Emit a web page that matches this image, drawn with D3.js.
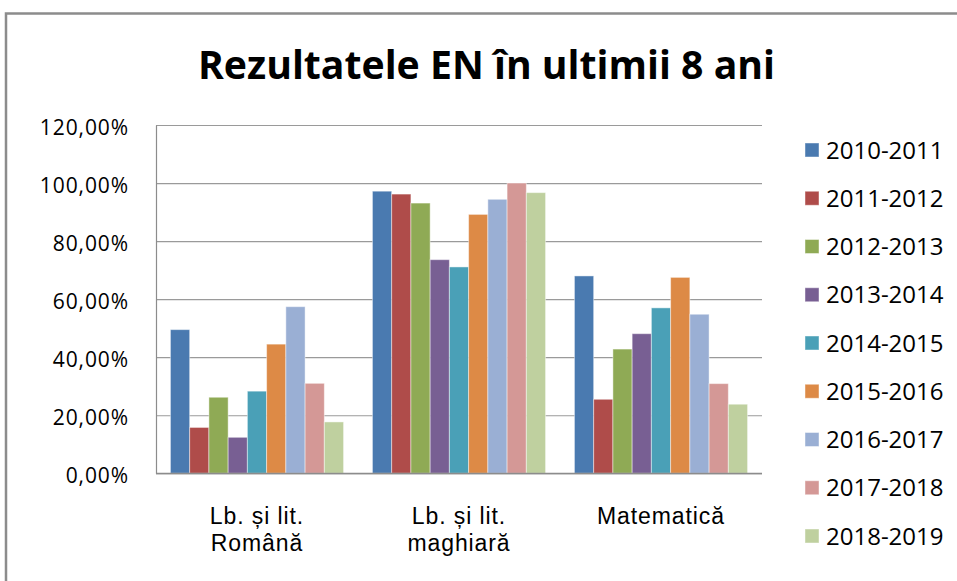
<!DOCTYPE html>
<html>
<head>
<meta charset="utf-8">
<script src="https://cdn.jsdelivr.net/npm/d3@7"></script>
<style>
	body{ margin:0; background:#fff; }
	svg{ display:block; }
</style>
</head>
<body>
<div id="chart"></div>
<script>
// values (fractions of 1)
var categories = ["Lb. și lit.\nRomână", "Lb. și lit.\nmaghiară", "Matematică"];
var seriesNames = ["2010-2011", "2011-2012", "2012-2013", "2013-2014", "2014-2015",
	"2015-2016", "2016-2017", "2017-2018", "2018-2019"];
var romana   = [0.495, 0.158, 0.262, 0.124, 0.283, 0.445, 0.574, 0.310, 0.177];
var maghiara = [0.972, 0.962, 0.931, 0.736, 0.711, 0.892, 0.944, 1.000, 0.967];
var matem    = [0.680, 0.255, 0.428, 0.481, 0.570, 0.675, 0.548, 0.309, 0.238];
var yTicks = [0, 0.2, 0.4, 0.6, 0.8, 1.0, 1.2];
var colors = ["#4a7ab0", "#af4c4a", "#8faa55", "#785f93", "#4aa0b7",
	"#dd8a46", "#9aafd4", "#d49896", "#bfd09f"];
var title = "Rezultatele EN în ultimii 8 ani";

var width = 957, height = 581;
var margin = {left:156, right:195, top:125, bottom:107.7};

var svg = d3.select("#chart").append("svg")
	.attr("width", width)
	.attr("height", height);

// outer chart border (runs off the right and bottom of the picture)
svg.append("rect")
	.attr("x", 6).attr("y", 13.5)
	.attr("width", width + 20).attr("height", height + 20)
	.attr("fill", "none")
	.attr("stroke", "#8c8c8c")
	.attr("stroke-width", 2.5);

svg.append("text")
	.attr("x", 198).attr("y", 79.3)
	.attr("textLength", 577)
	.attr("lengthAdjust", "spacingAndGlyphs")
	.style("font-family", "'Open Sans'")
	.style("font-weight", "bold")
	.style("font-size", "40px")
	.attr("fill", "#000")
	.text(title);

var table = [romana, maghiara, matem].map(function(vals, i){
	return {cat:categories[i], values:vals};
});

var x0 = d3.scaleBand()
	.domain(categories)
	.range([margin.left, width - margin.right])
	.paddingInner(1.5 / 10.5)
	.paddingOuter(0.75 / 10.5);

var x1 = d3.scaleBand()
	.domain(seriesNames)
	.range([0, x0.bandwidth()]);

var y = d3.scaleLinear()
	.domain([0, 1.2])
	.range([height - margin.bottom, margin.top]);

var fmt = function(d){ return d3.format(".2%")(d).replace(".", ","); };

// gridlines
svg.append("g")
	.attr("class", "grid")
	.attr("transform", "translate(" + margin.left + ",0)")
	.call(d3.axisLeft(y).tickValues(yTicks).tickSize(-(width - margin.right - margin.left)).tickFormat(""))
	.call(function(g){
		g.select(".domain").remove();
		g.selectAll("line").attr("stroke", "#9a9a9a").attr("stroke-width", 1.2);
	});

// y axis labels
svg.append("g")
	.attr("transform", "translate(" + margin.left + ",0)")
	.call(d3.axisLeft(y).tickValues(yTicks).tickSize(0).tickPadding(27).tickFormat(fmt))
	.call(function(g){
		g.select(".domain").attr("stroke", "#8c8c8c").attr("stroke-width", 1.2);
		g.selectAll("text")
			.attr("dy", "9.5px")
			.style("font-family", "'Open Sans'")
			.style("font-size", "21px")
			.style("letter-spacing", "0.9px")
			.attr("fill", "#000");
	});

// bars
var groups = svg.append("g").selectAll("g")
	.data(table)
	.enter()
	.append("g")
	.attr("transform", function(d){ return "translate(" + x0(d.cat) + ",0)"; });

groups.selectAll("rect")
	.data(function(d){
		return d.values.map(function(v, i){ return {name:seriesNames[i], value:v, i:i}; });
	})
	.enter()
	.append("rect")
	.attr("x", function(d){ return x1(d.name); })
	.attr("y", function(d){ return y(d.value); })
	.attr("width", x1.bandwidth())
	.attr("height", function(d){ return y(0) - y(d.value); })
	.attr("fill", function(d){ return colors[d.i]; })
	.attr("stroke", "rgba(255,255,255,0.45)")
	.attr("stroke-width", 1);

// x axis line
svg.append("line")
	.attr("x1", margin.left).attr("x2", width - margin.right)
	.attr("y1", y(0)).attr("y2", y(0))
	.attr("stroke", "#8c8c8c")
	.attr("stroke-width", 1.2);

// category labels
var catText = svg.append("g").selectAll("text")
	.data(categories)
	.enter()
	.append("text")
	.attr("text-anchor", "middle")
	.style("font-family", "'Liberation Sans'")
	.style("font-size", "23px")
	.style("letter-spacing", "0.9px")
	.attr("fill", "#000");

catText.each(function(d){
	var t = d3.select(this);
	d.split("\n").forEach(function(line, k){
		t.append("tspan")
			.attr("x", x0(d) + x0.bandwidth() / 2)
			.attr("y", 524.3 + k * 26.7)
			.text(line);
	});
});

// legend
var legend = svg.append("g").selectAll("g")
	.data(seriesNames)
	.enter()
	.append("g")
	.attr("transform", function(d, i){ return "translate(805," + (150 + i * 48.25) + ")"; });

legend.append("rect")
	.attr("x", 0).attr("y", -7)
	.attr("width", 14).attr("height", 14)
	.attr("fill", function(d, i){ return colors[i]; })
	.attr("stroke", "rgba(255,255,255,0.45)");

legend.append("text")
	.attr("x", 21).attr("y", 8.6)
	.style("font-family", "'Open Sans'")
	.style("font-size", "24px")
	.attr("fill", "#000")
	.text(function(d){ return d; });
</script>
</body>
</html>
